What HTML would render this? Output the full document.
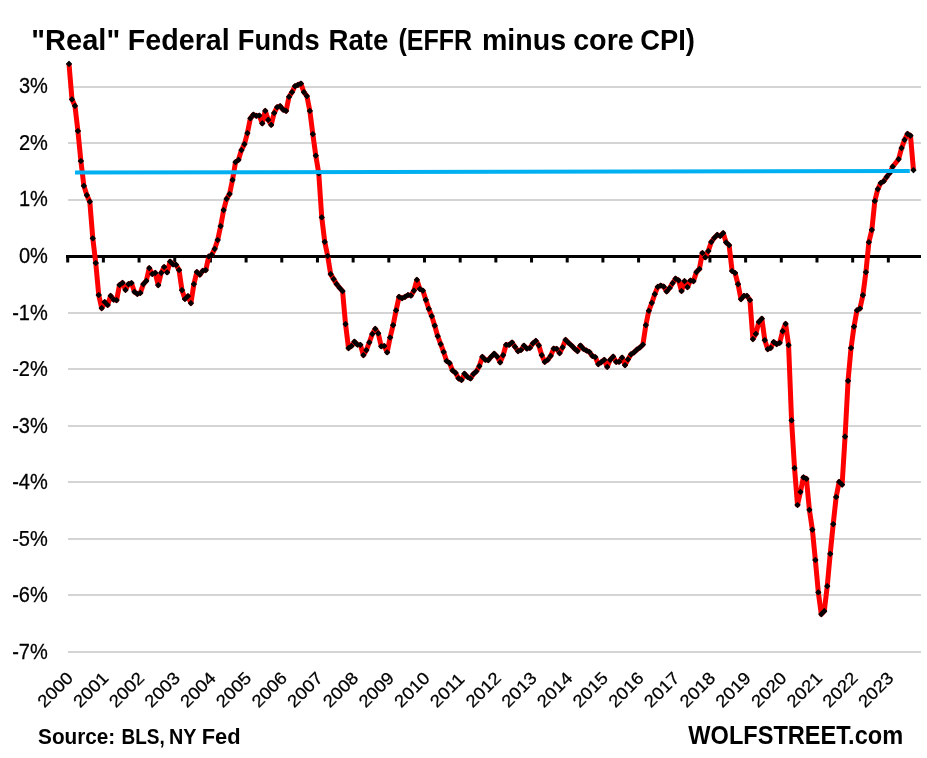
<!DOCTYPE html>
<html><head><meta charset="utf-8"><title>"Real" Federal Funds Rate</title>
<style>
html,body{margin:0;padding:0;background:#fff;}
body{width:927px;height:758px;overflow:hidden;}
svg{display:block;will-change:transform;}
text{font-family:"Liberation Sans",Arial,sans-serif;fill:#000;}
.r{stroke:#000;stroke-width:0.25px;}
</style></head><body>
<svg width="927" height="758" viewBox="0 0 927 758">
<rect width="927" height="758" fill="#ffffff"/>
<rect x="68.0" y="86" width="853.0" height="2" fill="#d4d4d4"/>
<rect x="68.0" y="142" width="853.0" height="2" fill="#d4d4d4"/>
<rect x="68.0" y="199" width="853.0" height="2" fill="#d4d4d4"/>
<rect x="68.0" y="312" width="853.0" height="2" fill="#d4d4d4"/>
<rect x="68.0" y="368" width="853.0" height="2" fill="#d4d4d4"/>
<rect x="68.0" y="425" width="853.0" height="2" fill="#d4d4d4"/>
<rect x="68.0" y="481" width="853.0" height="2" fill="#d4d4d4"/>
<rect x="68.0" y="538" width="853.0" height="2" fill="#d4d4d4"/>
<rect x="68.0" y="594" width="853.0" height="2" fill="#d4d4d4"/>
<rect x="68.0" y="651" width="853.0" height="2" fill="#d4d4d4"/>
<text class="r" transform="translate(18.90,92.69) scale(0.9449,1)" font-size="21.20">3%</text>
<text class="r" transform="translate(18.90,149.69) scale(0.9383,1)" font-size="21.35">2%</text>
<text class="r" transform="translate(18.90,205.79) scale(0.9349,1)" font-size="21.43">1%</text>
<text class="r" transform="translate(18.90,263.09) scale(0.9449,1)" font-size="21.20">0%</text>
<text class="r" transform="translate(12.19,319.69) scale(0.9349,1)" font-size="21.43">-1%</text>
<text class="r" transform="translate(12.19,375.69) scale(0.9383,1)" font-size="21.35">-2%</text>
<text class="r" transform="translate(12.19,432.59) scale(0.9449,1)" font-size="21.20">-3%</text>
<text class="r" transform="translate(12.19,488.69) scale(0.9349,1)" font-size="21.43">-4%</text>
<text class="r" transform="translate(12.19,545.59) scale(0.9416,1)" font-size="21.28">-5%</text>
<text class="r" transform="translate(12.19,601.59) scale(0.9449,1)" font-size="21.20">-6%</text>
<text class="r" transform="translate(12.19,658.69) scale(0.9349,1)" font-size="21.43">-7%</text>
<rect x="66" y="255" width="855" height="3" fill="#000"/>
<rect x="66.20" y="255" width="3" height="7.5" fill="#000"/>
<rect x="101.88" y="255" width="3" height="7.5" fill="#000"/>
<rect x="137.56" y="255" width="3" height="7.5" fill="#000"/>
<rect x="173.24" y="255" width="3" height="7.5" fill="#000"/>
<rect x="208.92" y="255" width="3" height="7.5" fill="#000"/>
<rect x="244.60" y="255" width="3" height="7.5" fill="#000"/>
<rect x="280.28" y="255" width="3" height="7.5" fill="#000"/>
<rect x="315.96" y="255" width="3" height="7.5" fill="#000"/>
<rect x="351.64" y="255" width="3" height="7.5" fill="#000"/>
<rect x="387.32" y="255" width="3" height="7.5" fill="#000"/>
<rect x="423.00" y="255" width="3" height="7.5" fill="#000"/>
<rect x="458.68" y="255" width="3" height="7.5" fill="#000"/>
<rect x="494.36" y="255" width="3" height="7.5" fill="#000"/>
<rect x="530.04" y="255" width="3" height="7.5" fill="#000"/>
<rect x="565.72" y="255" width="3" height="7.5" fill="#000"/>
<rect x="601.40" y="255" width="3" height="7.5" fill="#000"/>
<rect x="637.08" y="255" width="3" height="7.5" fill="#000"/>
<rect x="672.76" y="255" width="3" height="7.5" fill="#000"/>
<rect x="708.44" y="255" width="3" height="7.5" fill="#000"/>
<rect x="744.12" y="255" width="3" height="7.5" fill="#000"/>
<rect x="779.80" y="255" width="3" height="7.5" fill="#000"/>
<rect x="815.48" y="255" width="3" height="7.5" fill="#000"/>
<rect x="851.16" y="255" width="3" height="7.5" fill="#000"/>
<rect x="886.84" y="255" width="3" height="7.5" fill="#000"/>
<text transform="translate(44.55,708.55) rotate(-45) scale(1.09,1)" class="r" font-size="17.2">2000</text>
<text transform="translate(80.23,708.55) rotate(-45) scale(1.09,1)" class="r" font-size="17.2">2001</text>
<text transform="translate(115.91,708.55) rotate(-45) scale(1.09,1)" class="r" font-size="17.2">2002</text>
<text transform="translate(151.59,708.55) rotate(-45) scale(1.09,1)" class="r" font-size="17.2">2003</text>
<text transform="translate(187.27,708.55) rotate(-45) scale(1.09,1)" class="r" font-size="17.2">2004</text>
<text transform="translate(222.95,708.55) rotate(-45) scale(1.09,1)" class="r" font-size="17.2">2005</text>
<text transform="translate(258.63,708.55) rotate(-45) scale(1.09,1)" class="r" font-size="17.2">2006</text>
<text transform="translate(294.31,708.55) rotate(-45) scale(1.09,1)" class="r" font-size="17.2">2007</text>
<text transform="translate(329.99,708.55) rotate(-45) scale(1.09,1)" class="r" font-size="17.2">2008</text>
<text transform="translate(365.67,708.55) rotate(-45) scale(1.09,1)" class="r" font-size="17.2">2009</text>
<text transform="translate(401.35,708.55) rotate(-45) scale(1.09,1)" class="r" font-size="17.2">2010</text>
<text transform="translate(437.03,708.55) rotate(-45) scale(1.09,1)" class="r" font-size="17.2">2011</text>
<text transform="translate(472.71,708.55) rotate(-45) scale(1.09,1)" class="r" font-size="17.2">2012</text>
<text transform="translate(508.39,708.55) rotate(-45) scale(1.09,1)" class="r" font-size="17.2">2013</text>
<text transform="translate(544.07,708.55) rotate(-45) scale(1.09,1)" class="r" font-size="17.2">2014</text>
<text transform="translate(579.75,708.55) rotate(-45) scale(1.09,1)" class="r" font-size="17.2">2015</text>
<text transform="translate(615.43,708.55) rotate(-45) scale(1.09,1)" class="r" font-size="17.2">2016</text>
<text transform="translate(651.11,708.55) rotate(-45) scale(1.09,1)" class="r" font-size="17.2">2017</text>
<text transform="translate(686.79,708.55) rotate(-45) scale(1.09,1)" class="r" font-size="17.2">2018</text>
<text transform="translate(722.47,708.55) rotate(-45) scale(1.09,1)" class="r" font-size="17.2">2019</text>
<text transform="translate(758.15,708.55) rotate(-45) scale(1.09,1)" class="r" font-size="17.2">2020</text>
<text transform="translate(793.83,708.55) rotate(-45) scale(1.09,1)" class="r" font-size="17.2">2021</text>
<text transform="translate(829.51,708.55) rotate(-45) scale(1.09,1)" class="r" font-size="17.2">2022</text>
<text transform="translate(865.19,708.55) rotate(-45) scale(1.09,1)" class="r" font-size="17.2">2023</text>
<path d="M69.00,63.90 L71.97,99.30 L74.95,105.90 L77.92,131.00 L80.89,161.00 L83.87,185.80 L86.84,195.10 L89.81,201.70 L92.79,238.30 L95.76,263.00 L98.73,295.00 L101.71,308.10 L104.68,302.00 L107.66,305.00 L110.63,295.90 L113.60,299.60 L116.58,300.20 L119.55,285.00 L122.52,282.80 L125.50,289.90 L128.47,284.10 L131.44,283.00 L134.42,291.80 L137.39,294.00 L140.36,292.90 L143.34,284.10 L146.31,280.80 L149.28,268.10 L152.26,274.00 L155.23,272.90 L158.20,285.10 L161.18,272.90 L164.15,267.00 L167.13,272.30 L170.10,261.60 L173.07,264.50 L176.05,264.80 L179.02,270.00 L181.99,290.10 L184.97,299.00 L187.94,296.20 L190.91,303.10 L193.89,284.10 L196.86,272.00 L199.83,274.70 L202.81,270.80 L205.78,270.10 L208.75,256.50 L211.73,254.90 L214.70,248.90 L217.68,240.00 L220.65,226.20 L223.62,210.10 L226.60,198.90 L229.57,194.00 L232.54,179.80 L235.52,162.20 L238.49,159.80 L241.46,150.10 L244.44,144.20 L247.41,133.10 L250.38,118.30 L253.36,114.70 L256.33,115.80 L259.30,115.50 L262.28,123.40 L265.25,110.90 L268.22,119.90 L271.20,124.80 L274.17,113.00 L277.14,107.20 L280.12,106.10 L283.09,109.60 L286.07,110.90 L289.04,96.80 L292.01,92.20 L294.99,86.20 L297.96,84.90 L300.93,83.60 L303.91,92.20 L306.88,96.10 L309.85,110.90 L312.83,134.10 L315.80,155.70 L318.77,173.30 L321.75,217.30 L324.72,241.80 L327.69,256.00 L330.67,274.10 L333.64,279.10 L336.62,284.10 L339.59,287.80 L342.56,291.10 L345.54,324.10 L348.51,348.10 L351.48,346.00 L354.46,341.70 L357.43,344.60 L360.40,344.90 L363.38,355.10 L366.35,350.20 L369.32,342.30 L372.30,334.00 L375.27,328.80 L378.24,333.30 L381.22,346.30 L384.19,346.00 L387.16,352.30 L390.14,337.50 L393.11,325.20 L396.08,310.40 L399.06,296.90 L402.03,298.20 L405.01,296.90 L407.98,295.00 L410.95,295.60 L413.93,290.60 L416.90,279.80 L419.87,289.00 L422.85,290.60 L425.82,299.80 L428.79,308.80 L431.77,316.20 L434.74,325.70 L437.71,336.20 L440.69,344.10 L443.66,352.00 L446.63,361.00 L449.61,363.10 L452.58,370.50 L455.56,372.90 L458.53,378.40 L461.50,380.00 L464.48,373.70 L467.45,376.90 L470.42,378.50 L473.40,374.00 L476.37,371.40 L479.34,366.10 L482.32,356.90 L485.29,359.80 L488.26,360.20 L491.24,356.70 L494.21,353.70 L497.18,356.70 L500.16,362.40 L503.13,355.20 L506.10,344.80 L509.08,344.80 L512.05,342.50 L515.02,346.80 L518.00,351.10 L520.97,350.00 L523.95,345.70 L526.92,348.60 L529.89,347.90 L532.87,343.40 L535.84,340.80 L538.81,345.40 L541.79,355.20 L544.76,361.90 L547.73,359.80 L550.71,355.90 L553.68,348.60 L556.65,348.80 L559.63,353.10 L562.60,347.30 L565.57,339.90 L568.55,342.80 L571.52,345.50 L574.50,348.60 L577.47,351.10 L580.44,345.50 L583.42,348.80 L586.39,350.50 L589.36,352.00 L592.34,355.90 L595.31,357.20 L598.28,364.10 L601.26,362.10 L604.23,359.80 L607.20,366.90 L610.18,359.80 L613.15,356.60 L616.12,361.90 L619.10,361.80 L622.07,357.60 L625.04,365.20 L628.02,359.30 L630.99,354.40 L633.97,352.40 L636.94,349.60 L639.91,347.50 L642.89,344.70 L645.86,325.10 L648.83,310.80 L651.81,302.90 L654.78,294.20 L657.75,286.90 L660.73,285.50 L663.70,286.60 L666.67,291.50 L669.65,288.00 L672.62,283.10 L675.59,278.60 L678.57,280.40 L681.54,291.00 L684.51,281.10 L687.49,287.20 L690.46,280.50 L693.44,281.10 L696.41,272.10 L699.38,269.00 L702.36,253.00 L705.33,257.30 L708.30,251.00 L711.28,242.00 L714.25,237.90 L717.22,234.90 L720.20,236.00 L723.17,233.10 L726.14,242.40 L729.12,245.20 L732.09,271.00 L735.06,273.00 L738.04,284.20 L741.01,299.20 L743.98,295.90 L746.96,295.90 L749.93,300.00 L752.90,339.10 L755.88,333.80 L758.85,321.90 L761.83,318.70 L764.80,340.20 L767.77,349.20 L770.75,347.90 L773.72,342.00 L776.69,344.10 L779.67,342.80 L782.64,331.20 L785.61,323.80 L788.59,345.10 L791.56,420.30 L794.53,468.20 L797.51,505.00 L800.48,491.80 L803.45,477.30 L806.43,478.80 L809.40,509.90 L812.38,529.70 L815.35,560.00 L818.32,592.30 L821.30,614.20 L824.27,611.10 L827.24,586.20 L830.22,553.80 L833.19,524.20 L836.16,497.00 L839.14,481.90 L842.11,484.60 L845.08,436.60 L848.06,380.80 L851.03,348.00 L854.00,326.70 L856.98,310.30 L859.95,308.50 L862.92,295.10 L865.90,272.20 L868.87,242.20 L871.85,229.90 L874.82,201.00 L877.79,189.10 L880.77,183.00 L883.74,181.20 L886.71,176.80 L889.69,173.00 L892.66,166.70 L898.61,159.20 L901.58,148.10 L904.55,139.80 L907.53,133.80 L910.50,135.70 L913.47,170.20" fill="none" stroke="#ff0000" stroke-width="5" stroke-linejoin="round"/>
<path d="M69.00,61.45l2.45,2.45l-2.45,2.45l-2.45,-2.45zM71.97,96.85l2.45,2.45l-2.45,2.45l-2.45,-2.45zM74.95,103.45l2.45,2.45l-2.45,2.45l-2.45,-2.45zM77.92,128.55l2.45,2.45l-2.45,2.45l-2.45,-2.45zM80.89,158.55l2.45,2.45l-2.45,2.45l-2.45,-2.45zM83.87,183.35l2.45,2.45l-2.45,2.45l-2.45,-2.45zM86.84,192.65l2.45,2.45l-2.45,2.45l-2.45,-2.45zM89.81,199.25l2.45,2.45l-2.45,2.45l-2.45,-2.45zM92.79,235.85l2.45,2.45l-2.45,2.45l-2.45,-2.45zM95.76,260.55l2.45,2.45l-2.45,2.45l-2.45,-2.45zM98.73,292.55l2.45,2.45l-2.45,2.45l-2.45,-2.45zM101.71,305.65l2.45,2.45l-2.45,2.45l-2.45,-2.45zM104.68,299.55l2.45,2.45l-2.45,2.45l-2.45,-2.45zM107.66,302.55l2.45,2.45l-2.45,2.45l-2.45,-2.45zM110.63,293.45l2.45,2.45l-2.45,2.45l-2.45,-2.45zM113.60,297.15l2.45,2.45l-2.45,2.45l-2.45,-2.45zM116.58,297.75l2.45,2.45l-2.45,2.45l-2.45,-2.45zM119.55,282.55l2.45,2.45l-2.45,2.45l-2.45,-2.45zM122.52,280.35l2.45,2.45l-2.45,2.45l-2.45,-2.45zM125.50,287.45l2.45,2.45l-2.45,2.45l-2.45,-2.45zM128.47,281.65l2.45,2.45l-2.45,2.45l-2.45,-2.45zM131.44,280.55l2.45,2.45l-2.45,2.45l-2.45,-2.45zM134.42,289.35l2.45,2.45l-2.45,2.45l-2.45,-2.45zM137.39,291.55l2.45,2.45l-2.45,2.45l-2.45,-2.45zM140.36,290.45l2.45,2.45l-2.45,2.45l-2.45,-2.45zM143.34,281.65l2.45,2.45l-2.45,2.45l-2.45,-2.45zM146.31,278.35l2.45,2.45l-2.45,2.45l-2.45,-2.45zM149.28,265.65l2.45,2.45l-2.45,2.45l-2.45,-2.45zM152.26,271.55l2.45,2.45l-2.45,2.45l-2.45,-2.45zM155.23,270.45l2.45,2.45l-2.45,2.45l-2.45,-2.45zM158.20,282.65l2.45,2.45l-2.45,2.45l-2.45,-2.45zM161.18,270.45l2.45,2.45l-2.45,2.45l-2.45,-2.45zM164.15,264.55l2.45,2.45l-2.45,2.45l-2.45,-2.45zM167.13,269.85l2.45,2.45l-2.45,2.45l-2.45,-2.45zM170.10,259.15l2.45,2.45l-2.45,2.45l-2.45,-2.45zM173.07,262.05l2.45,2.45l-2.45,2.45l-2.45,-2.45zM176.05,262.35l2.45,2.45l-2.45,2.45l-2.45,-2.45zM179.02,267.55l2.45,2.45l-2.45,2.45l-2.45,-2.45zM181.99,287.65l2.45,2.45l-2.45,2.45l-2.45,-2.45zM184.97,296.55l2.45,2.45l-2.45,2.45l-2.45,-2.45zM187.94,293.75l2.45,2.45l-2.45,2.45l-2.45,-2.45zM190.91,300.65l2.45,2.45l-2.45,2.45l-2.45,-2.45zM193.89,281.65l2.45,2.45l-2.45,2.45l-2.45,-2.45zM196.86,269.55l2.45,2.45l-2.45,2.45l-2.45,-2.45zM199.83,272.25l2.45,2.45l-2.45,2.45l-2.45,-2.45zM202.81,268.35l2.45,2.45l-2.45,2.45l-2.45,-2.45zM205.78,267.65l2.45,2.45l-2.45,2.45l-2.45,-2.45zM208.75,254.05l2.45,2.45l-2.45,2.45l-2.45,-2.45zM211.73,252.45l2.45,2.45l-2.45,2.45l-2.45,-2.45zM214.70,246.45l2.45,2.45l-2.45,2.45l-2.45,-2.45zM217.68,237.55l2.45,2.45l-2.45,2.45l-2.45,-2.45zM220.65,223.75l2.45,2.45l-2.45,2.45l-2.45,-2.45zM223.62,207.65l2.45,2.45l-2.45,2.45l-2.45,-2.45zM226.60,196.45l2.45,2.45l-2.45,2.45l-2.45,-2.45zM229.57,191.55l2.45,2.45l-2.45,2.45l-2.45,-2.45zM232.54,177.35l2.45,2.45l-2.45,2.45l-2.45,-2.45zM235.52,159.75l2.45,2.45l-2.45,2.45l-2.45,-2.45zM238.49,157.35l2.45,2.45l-2.45,2.45l-2.45,-2.45zM241.46,147.65l2.45,2.45l-2.45,2.45l-2.45,-2.45zM244.44,141.75l2.45,2.45l-2.45,2.45l-2.45,-2.45zM247.41,130.65l2.45,2.45l-2.45,2.45l-2.45,-2.45zM250.38,115.85l2.45,2.45l-2.45,2.45l-2.45,-2.45zM253.36,112.25l2.45,2.45l-2.45,2.45l-2.45,-2.45zM256.33,113.35l2.45,2.45l-2.45,2.45l-2.45,-2.45zM259.30,113.05l2.45,2.45l-2.45,2.45l-2.45,-2.45zM262.28,120.95l2.45,2.45l-2.45,2.45l-2.45,-2.45zM265.25,108.45l2.45,2.45l-2.45,2.45l-2.45,-2.45zM268.22,117.45l2.45,2.45l-2.45,2.45l-2.45,-2.45zM271.20,122.35l2.45,2.45l-2.45,2.45l-2.45,-2.45zM274.17,110.55l2.45,2.45l-2.45,2.45l-2.45,-2.45zM277.14,104.75l2.45,2.45l-2.45,2.45l-2.45,-2.45zM280.12,103.65l2.45,2.45l-2.45,2.45l-2.45,-2.45zM283.09,107.15l2.45,2.45l-2.45,2.45l-2.45,-2.45zM286.07,108.45l2.45,2.45l-2.45,2.45l-2.45,-2.45zM289.04,94.35l2.45,2.45l-2.45,2.45l-2.45,-2.45zM292.01,89.75l2.45,2.45l-2.45,2.45l-2.45,-2.45zM294.99,83.75l2.45,2.45l-2.45,2.45l-2.45,-2.45zM297.96,82.45l2.45,2.45l-2.45,2.45l-2.45,-2.45zM300.93,81.15l2.45,2.45l-2.45,2.45l-2.45,-2.45zM303.91,89.75l2.45,2.45l-2.45,2.45l-2.45,-2.45zM306.88,93.65l2.45,2.45l-2.45,2.45l-2.45,-2.45zM309.85,108.45l2.45,2.45l-2.45,2.45l-2.45,-2.45zM312.83,131.65l2.45,2.45l-2.45,2.45l-2.45,-2.45zM315.80,153.25l2.45,2.45l-2.45,2.45l-2.45,-2.45zM318.77,170.85l2.45,2.45l-2.45,2.45l-2.45,-2.45zM321.75,214.85l2.45,2.45l-2.45,2.45l-2.45,-2.45zM324.72,239.35l2.45,2.45l-2.45,2.45l-2.45,-2.45zM327.69,253.55l2.45,2.45l-2.45,2.45l-2.45,-2.45zM330.67,271.65l2.45,2.45l-2.45,2.45l-2.45,-2.45zM333.64,276.65l2.45,2.45l-2.45,2.45l-2.45,-2.45zM336.62,281.65l2.45,2.45l-2.45,2.45l-2.45,-2.45zM339.59,285.35l2.45,2.45l-2.45,2.45l-2.45,-2.45zM342.56,288.65l2.45,2.45l-2.45,2.45l-2.45,-2.45zM345.54,321.65l2.45,2.45l-2.45,2.45l-2.45,-2.45zM348.51,345.65l2.45,2.45l-2.45,2.45l-2.45,-2.45zM351.48,343.55l2.45,2.45l-2.45,2.45l-2.45,-2.45zM354.46,339.25l2.45,2.45l-2.45,2.45l-2.45,-2.45zM357.43,342.15l2.45,2.45l-2.45,2.45l-2.45,-2.45zM360.40,342.45l2.45,2.45l-2.45,2.45l-2.45,-2.45zM363.38,352.65l2.45,2.45l-2.45,2.45l-2.45,-2.45zM366.35,347.75l2.45,2.45l-2.45,2.45l-2.45,-2.45zM369.32,339.85l2.45,2.45l-2.45,2.45l-2.45,-2.45zM372.30,331.55l2.45,2.45l-2.45,2.45l-2.45,-2.45zM375.27,326.35l2.45,2.45l-2.45,2.45l-2.45,-2.45zM378.24,330.85l2.45,2.45l-2.45,2.45l-2.45,-2.45zM381.22,343.85l2.45,2.45l-2.45,2.45l-2.45,-2.45zM384.19,343.55l2.45,2.45l-2.45,2.45l-2.45,-2.45zM387.16,349.85l2.45,2.45l-2.45,2.45l-2.45,-2.45zM390.14,335.05l2.45,2.45l-2.45,2.45l-2.45,-2.45zM393.11,322.75l2.45,2.45l-2.45,2.45l-2.45,-2.45zM396.08,307.95l2.45,2.45l-2.45,2.45l-2.45,-2.45zM399.06,294.45l2.45,2.45l-2.45,2.45l-2.45,-2.45zM402.03,295.75l2.45,2.45l-2.45,2.45l-2.45,-2.45zM405.01,294.45l2.45,2.45l-2.45,2.45l-2.45,-2.45zM407.98,292.55l2.45,2.45l-2.45,2.45l-2.45,-2.45zM410.95,293.15l2.45,2.45l-2.45,2.45l-2.45,-2.45zM413.93,288.15l2.45,2.45l-2.45,2.45l-2.45,-2.45zM416.90,277.35l2.45,2.45l-2.45,2.45l-2.45,-2.45zM419.87,286.55l2.45,2.45l-2.45,2.45l-2.45,-2.45zM422.85,288.15l2.45,2.45l-2.45,2.45l-2.45,-2.45zM425.82,297.35l2.45,2.45l-2.45,2.45l-2.45,-2.45zM428.79,306.35l2.45,2.45l-2.45,2.45l-2.45,-2.45zM431.77,313.75l2.45,2.45l-2.45,2.45l-2.45,-2.45zM434.74,323.25l2.45,2.45l-2.45,2.45l-2.45,-2.45zM437.71,333.75l2.45,2.45l-2.45,2.45l-2.45,-2.45zM440.69,341.65l2.45,2.45l-2.45,2.45l-2.45,-2.45zM443.66,349.55l2.45,2.45l-2.45,2.45l-2.45,-2.45zM446.63,358.55l2.45,2.45l-2.45,2.45l-2.45,-2.45zM449.61,360.65l2.45,2.45l-2.45,2.45l-2.45,-2.45zM452.58,368.05l2.45,2.45l-2.45,2.45l-2.45,-2.45zM455.56,370.45l2.45,2.45l-2.45,2.45l-2.45,-2.45zM458.53,375.95l2.45,2.45l-2.45,2.45l-2.45,-2.45zM461.50,377.55l2.45,2.45l-2.45,2.45l-2.45,-2.45zM464.48,371.25l2.45,2.45l-2.45,2.45l-2.45,-2.45zM467.45,374.45l2.45,2.45l-2.45,2.45l-2.45,-2.45zM470.42,376.05l2.45,2.45l-2.45,2.45l-2.45,-2.45zM473.40,371.55l2.45,2.45l-2.45,2.45l-2.45,-2.45zM476.37,368.95l2.45,2.45l-2.45,2.45l-2.45,-2.45zM479.34,363.65l2.45,2.45l-2.45,2.45l-2.45,-2.45zM482.32,354.45l2.45,2.45l-2.45,2.45l-2.45,-2.45zM485.29,357.35l2.45,2.45l-2.45,2.45l-2.45,-2.45zM488.26,357.75l2.45,2.45l-2.45,2.45l-2.45,-2.45zM491.24,354.25l2.45,2.45l-2.45,2.45l-2.45,-2.45zM494.21,351.25l2.45,2.45l-2.45,2.45l-2.45,-2.45zM497.18,354.25l2.45,2.45l-2.45,2.45l-2.45,-2.45zM500.16,359.95l2.45,2.45l-2.45,2.45l-2.45,-2.45zM503.13,352.75l2.45,2.45l-2.45,2.45l-2.45,-2.45zM506.10,342.35l2.45,2.45l-2.45,2.45l-2.45,-2.45zM509.08,342.35l2.45,2.45l-2.45,2.45l-2.45,-2.45zM512.05,340.05l2.45,2.45l-2.45,2.45l-2.45,-2.45zM515.02,344.35l2.45,2.45l-2.45,2.45l-2.45,-2.45zM518.00,348.65l2.45,2.45l-2.45,2.45l-2.45,-2.45zM520.97,347.55l2.45,2.45l-2.45,2.45l-2.45,-2.45zM523.95,343.25l2.45,2.45l-2.45,2.45l-2.45,-2.45zM526.92,346.15l2.45,2.45l-2.45,2.45l-2.45,-2.45zM529.89,345.45l2.45,2.45l-2.45,2.45l-2.45,-2.45zM532.87,340.95l2.45,2.45l-2.45,2.45l-2.45,-2.45zM535.84,338.35l2.45,2.45l-2.45,2.45l-2.45,-2.45zM538.81,342.95l2.45,2.45l-2.45,2.45l-2.45,-2.45zM541.79,352.75l2.45,2.45l-2.45,2.45l-2.45,-2.45zM544.76,359.45l2.45,2.45l-2.45,2.45l-2.45,-2.45zM547.73,357.35l2.45,2.45l-2.45,2.45l-2.45,-2.45zM550.71,353.45l2.45,2.45l-2.45,2.45l-2.45,-2.45zM553.68,346.15l2.45,2.45l-2.45,2.45l-2.45,-2.45zM556.65,346.35l2.45,2.45l-2.45,2.45l-2.45,-2.45zM559.63,350.65l2.45,2.45l-2.45,2.45l-2.45,-2.45zM562.60,344.85l2.45,2.45l-2.45,2.45l-2.45,-2.45zM565.57,337.45l2.45,2.45l-2.45,2.45l-2.45,-2.45zM568.55,340.35l2.45,2.45l-2.45,2.45l-2.45,-2.45zM571.52,343.05l2.45,2.45l-2.45,2.45l-2.45,-2.45zM574.50,346.15l2.45,2.45l-2.45,2.45l-2.45,-2.45zM577.47,348.65l2.45,2.45l-2.45,2.45l-2.45,-2.45zM580.44,343.05l2.45,2.45l-2.45,2.45l-2.45,-2.45zM583.42,346.35l2.45,2.45l-2.45,2.45l-2.45,-2.45zM586.39,348.05l2.45,2.45l-2.45,2.45l-2.45,-2.45zM589.36,349.55l2.45,2.45l-2.45,2.45l-2.45,-2.45zM592.34,353.45l2.45,2.45l-2.45,2.45l-2.45,-2.45zM595.31,354.75l2.45,2.45l-2.45,2.45l-2.45,-2.45zM598.28,361.65l2.45,2.45l-2.45,2.45l-2.45,-2.45zM601.26,359.65l2.45,2.45l-2.45,2.45l-2.45,-2.45zM604.23,357.35l2.45,2.45l-2.45,2.45l-2.45,-2.45zM607.20,364.45l2.45,2.45l-2.45,2.45l-2.45,-2.45zM610.18,357.35l2.45,2.45l-2.45,2.45l-2.45,-2.45zM613.15,354.15l2.45,2.45l-2.45,2.45l-2.45,-2.45zM616.12,359.45l2.45,2.45l-2.45,2.45l-2.45,-2.45zM619.10,359.35l2.45,2.45l-2.45,2.45l-2.45,-2.45zM622.07,355.15l2.45,2.45l-2.45,2.45l-2.45,-2.45zM625.04,362.75l2.45,2.45l-2.45,2.45l-2.45,-2.45zM628.02,356.85l2.45,2.45l-2.45,2.45l-2.45,-2.45zM630.99,351.95l2.45,2.45l-2.45,2.45l-2.45,-2.45zM633.97,349.95l2.45,2.45l-2.45,2.45l-2.45,-2.45zM636.94,347.15l2.45,2.45l-2.45,2.45l-2.45,-2.45zM639.91,345.05l2.45,2.45l-2.45,2.45l-2.45,-2.45zM642.89,342.25l2.45,2.45l-2.45,2.45l-2.45,-2.45zM645.86,322.65l2.45,2.45l-2.45,2.45l-2.45,-2.45zM648.83,308.35l2.45,2.45l-2.45,2.45l-2.45,-2.45zM651.81,300.45l2.45,2.45l-2.45,2.45l-2.45,-2.45zM654.78,291.75l2.45,2.45l-2.45,2.45l-2.45,-2.45zM657.75,284.45l2.45,2.45l-2.45,2.45l-2.45,-2.45zM660.73,283.05l2.45,2.45l-2.45,2.45l-2.45,-2.45zM663.70,284.15l2.45,2.45l-2.45,2.45l-2.45,-2.45zM666.67,289.05l2.45,2.45l-2.45,2.45l-2.45,-2.45zM669.65,285.55l2.45,2.45l-2.45,2.45l-2.45,-2.45zM672.62,280.65l2.45,2.45l-2.45,2.45l-2.45,-2.45zM675.59,276.15l2.45,2.45l-2.45,2.45l-2.45,-2.45zM678.57,277.95l2.45,2.45l-2.45,2.45l-2.45,-2.45zM681.54,288.55l2.45,2.45l-2.45,2.45l-2.45,-2.45zM684.51,278.65l2.45,2.45l-2.45,2.45l-2.45,-2.45zM687.49,284.75l2.45,2.45l-2.45,2.45l-2.45,-2.45zM690.46,278.05l2.45,2.45l-2.45,2.45l-2.45,-2.45zM693.44,278.65l2.45,2.45l-2.45,2.45l-2.45,-2.45zM696.41,269.65l2.45,2.45l-2.45,2.45l-2.45,-2.45zM699.38,266.55l2.45,2.45l-2.45,2.45l-2.45,-2.45zM702.36,250.55l2.45,2.45l-2.45,2.45l-2.45,-2.45zM705.33,254.85l2.45,2.45l-2.45,2.45l-2.45,-2.45zM708.30,248.55l2.45,2.45l-2.45,2.45l-2.45,-2.45zM711.28,239.55l2.45,2.45l-2.45,2.45l-2.45,-2.45zM714.25,235.45l2.45,2.45l-2.45,2.45l-2.45,-2.45zM717.22,232.45l2.45,2.45l-2.45,2.45l-2.45,-2.45zM720.20,233.55l2.45,2.45l-2.45,2.45l-2.45,-2.45zM723.17,230.65l2.45,2.45l-2.45,2.45l-2.45,-2.45zM726.14,239.95l2.45,2.45l-2.45,2.45l-2.45,-2.45zM729.12,242.75l2.45,2.45l-2.45,2.45l-2.45,-2.45zM732.09,268.55l2.45,2.45l-2.45,2.45l-2.45,-2.45zM735.06,270.55l2.45,2.45l-2.45,2.45l-2.45,-2.45zM738.04,281.75l2.45,2.45l-2.45,2.45l-2.45,-2.45zM741.01,296.75l2.45,2.45l-2.45,2.45l-2.45,-2.45zM743.98,293.45l2.45,2.45l-2.45,2.45l-2.45,-2.45zM746.96,293.45l2.45,2.45l-2.45,2.45l-2.45,-2.45zM749.93,297.55l2.45,2.45l-2.45,2.45l-2.45,-2.45zM752.90,336.65l2.45,2.45l-2.45,2.45l-2.45,-2.45zM755.88,331.35l2.45,2.45l-2.45,2.45l-2.45,-2.45zM758.85,319.45l2.45,2.45l-2.45,2.45l-2.45,-2.45zM761.83,316.25l2.45,2.45l-2.45,2.45l-2.45,-2.45zM764.80,337.75l2.45,2.45l-2.45,2.45l-2.45,-2.45zM767.77,346.75l2.45,2.45l-2.45,2.45l-2.45,-2.45zM770.75,345.45l2.45,2.45l-2.45,2.45l-2.45,-2.45zM773.72,339.55l2.45,2.45l-2.45,2.45l-2.45,-2.45zM776.69,341.65l2.45,2.45l-2.45,2.45l-2.45,-2.45zM779.67,340.35l2.45,2.45l-2.45,2.45l-2.45,-2.45zM782.64,328.75l2.45,2.45l-2.45,2.45l-2.45,-2.45zM785.61,321.35l2.45,2.45l-2.45,2.45l-2.45,-2.45zM788.59,342.65l2.45,2.45l-2.45,2.45l-2.45,-2.45zM791.56,417.85l2.45,2.45l-2.45,2.45l-2.45,-2.45zM794.53,465.75l2.45,2.45l-2.45,2.45l-2.45,-2.45zM797.51,502.55l2.45,2.45l-2.45,2.45l-2.45,-2.45zM800.48,489.35l2.45,2.45l-2.45,2.45l-2.45,-2.45zM803.45,474.85l2.45,2.45l-2.45,2.45l-2.45,-2.45zM806.43,476.35l2.45,2.45l-2.45,2.45l-2.45,-2.45zM809.40,507.45l2.45,2.45l-2.45,2.45l-2.45,-2.45zM812.38,527.25l2.45,2.45l-2.45,2.45l-2.45,-2.45zM815.35,557.55l2.45,2.45l-2.45,2.45l-2.45,-2.45zM818.32,589.85l2.45,2.45l-2.45,2.45l-2.45,-2.45zM821.30,611.75l2.45,2.45l-2.45,2.45l-2.45,-2.45zM824.27,608.65l2.45,2.45l-2.45,2.45l-2.45,-2.45zM827.24,583.75l2.45,2.45l-2.45,2.45l-2.45,-2.45zM830.22,551.35l2.45,2.45l-2.45,2.45l-2.45,-2.45zM833.19,521.75l2.45,2.45l-2.45,2.45l-2.45,-2.45zM836.16,494.55l2.45,2.45l-2.45,2.45l-2.45,-2.45zM839.14,479.45l2.45,2.45l-2.45,2.45l-2.45,-2.45zM842.11,482.15l2.45,2.45l-2.45,2.45l-2.45,-2.45zM845.08,434.15l2.45,2.45l-2.45,2.45l-2.45,-2.45zM848.06,378.35l2.45,2.45l-2.45,2.45l-2.45,-2.45zM851.03,345.55l2.45,2.45l-2.45,2.45l-2.45,-2.45zM854.00,324.25l2.45,2.45l-2.45,2.45l-2.45,-2.45zM856.98,307.85l2.45,2.45l-2.45,2.45l-2.45,-2.45zM859.95,306.05l2.45,2.45l-2.45,2.45l-2.45,-2.45zM862.92,292.65l2.45,2.45l-2.45,2.45l-2.45,-2.45zM865.90,269.75l2.45,2.45l-2.45,2.45l-2.45,-2.45zM868.87,239.75l2.45,2.45l-2.45,2.45l-2.45,-2.45zM871.85,227.45l2.45,2.45l-2.45,2.45l-2.45,-2.45zM874.82,198.55l2.45,2.45l-2.45,2.45l-2.45,-2.45zM877.79,186.65l2.45,2.45l-2.45,2.45l-2.45,-2.45zM880.77,180.55l2.45,2.45l-2.45,2.45l-2.45,-2.45zM883.74,178.75l2.45,2.45l-2.45,2.45l-2.45,-2.45zM886.71,174.35l2.45,2.45l-2.45,2.45l-2.45,-2.45zM889.69,170.55l2.45,2.45l-2.45,2.45l-2.45,-2.45zM892.66,164.25l2.45,2.45l-2.45,2.45l-2.45,-2.45zM898.61,156.75l2.45,2.45l-2.45,2.45l-2.45,-2.45zM901.58,145.65l2.45,2.45l-2.45,2.45l-2.45,-2.45zM904.55,137.35l2.45,2.45l-2.45,2.45l-2.45,-2.45zM907.53,131.35l2.45,2.45l-2.45,2.45l-2.45,-2.45zM910.50,133.25l2.45,2.45l-2.45,2.45l-2.45,-2.45zM913.47,167.75l2.45,2.45l-2.45,2.45l-2.45,-2.45z" fill="#000" stroke="#000" stroke-width="1.1" stroke-linejoin="round"/>
<line x1="75" y1="172.56" x2="909.8" y2="171.1" stroke="#00b0f0" stroke-width="4"/>
<text transform="translate(31.31,50.30) scale(0.9554,1)" font-size="30.40" font-weight="bold">&quot;Real&quot;</text>
<text transform="translate(127.87,50.30) scale(0.9416,1)" font-size="30.40" font-weight="bold">Federal</text>
<text transform="translate(237.86,50.30) scale(0.8969,1)" font-size="30.40" font-weight="bold">Funds</text>
<text transform="translate(328.43,50.30) scale(0.9101,1)" font-size="30.40" font-weight="bold">Rate</text>
<text transform="translate(398.45,50.30) scale(0.8234,1)" font-size="30.40" font-weight="bold">(EFFR</text>
<text transform="translate(481.94,50.30) scale(0.9405,1)" font-size="30.40" font-weight="bold">minus</text>
<text transform="translate(573.15,50.30) scale(0.9445,1)" font-size="30.40" font-weight="bold">core</text>
<text transform="translate(640.31,50.30) scale(0.8990,1)" font-size="30.40" font-weight="bold">CPI)</text>
<text transform="translate(38.08,743.60) scale(0.9765,1)" font-size="21.24" font-weight="bold">Source:</text>
<text transform="translate(121.42,743.60) scale(0.8945,1)" font-size="21.24" font-weight="bold">BLS,</text>
<text transform="translate(169.07,743.60) scale(0.9310,1)" font-size="21.24" font-weight="bold">NY</text>
<text transform="translate(201.72,743.60) scale(1.0305,1)" font-size="21.24" font-weight="bold">Fed</text>
<text transform="translate(688.34,743.80) scale(0.9110,1)" font-size="25.89" font-weight="bold">WOLFSTREET.com</text>
</svg>
</body></html>
